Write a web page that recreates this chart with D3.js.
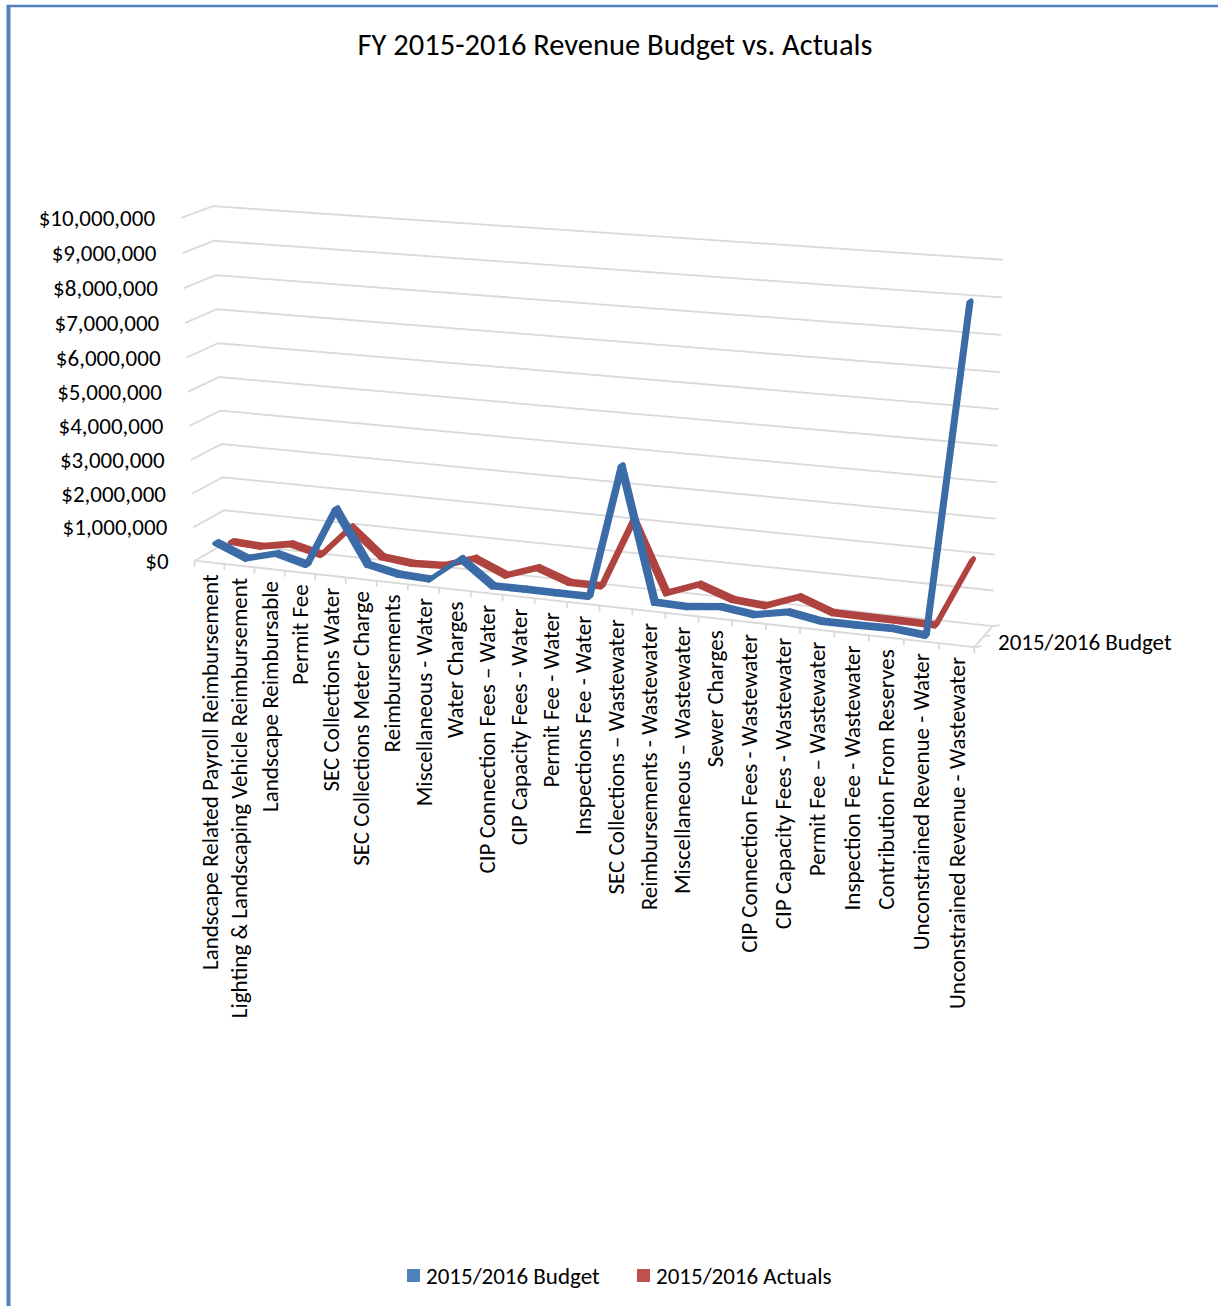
<!DOCTYPE html>
<html>
<head>
<meta charset="utf-8">
<script src="https://cdnjs.cloudflare.com/ajax/libs/d3/7.8.5/d3.min.js"></script>
<style>
  body { margin: 0; background: #fff; }
  svg { display: block; font-family: Carlito, Calibri, Lato, sans-serif; }
</style>
</head>
<body>
<script>

var categories = [
    "Landscape Related Payroll Reimbursement",
    "Lighting & Landscaping Vehicle Reimbursement",
    "Landscape Reimbursable",
    "Permit Fee",
    "SEC Collections Water",
    "SEC Collections Meter Charge",
    "Reimbursements",
    "Miscellaneous - Water",
    "Water Charges",
    "CIP Connection Fees \u2013 Water",
    "CIP Capacity Fees - Water",
    "Permit Fee - Water",
    "Inspections Fee - Water",
    "SEC Collections \u2013 Wastewater",
    "Reimbursements - Wastewater",
    "Miscellaneous \u2013 Wastewater",
    "Sewer Charges",
    "CIP Connection Fees -  Wastewater",
    "CIP Capacity Fees -  Wastewater",
    "Permit Fee \u2013 Wastewater",
    "Inspection Fee - Wastewater",
    "Contribution From Reserves",
    "Unconstrained Revenue - Water",
    "Unconstrained Revenue - Wastewater"
];

var seriesNames = ["2015/2016 Budget", "2015/2016 Actuals"];
var seriesColors = ["#4f81bd", "#c0504d"];
var seriesEdges = ["#3c6ca8", "#ae4340"];

var budget = [460000, 90000, 330000, 100000, 1840000, 300000, 110000, 70000, 770000, 70000,
              80000, 70000, 70000, 3890000, 110000, 90000, 190000, 70000, 250000, 90000,
              90000, 110000, 20000, 9140000];

var actuals = [230000, 180000, 350000, 130000, 1050000, 260000, 160000, 200000, 510000, 110000,
               430000, 100000, 100000, 2120000, 100000, 450000, 120000, 40000, 400000, 50000,
               40000, 30000, 20000, 1940000];

var yTicks = d3.range(0, 10000001, 1000000);

var width = 1218, height = 1306;

// where the corners of the 3d box (x, value, depth all 0..1) land on the page
var boxCorners = [
    [[0, 0, 0], [195, 558]],
    [[1, 0, 0], [974, 650]],
    [[0, 0, 1], [225, 546]],
    [[1, 0, 1], [993, 623]],
    [[0, 1, 0], [181, 218]],
    [[0, 1, 1], [213, 206]],
    [[1, 1, 1], [1003, 260]]
];

// perspective camera fitted to the box corners (least squares)
function fitCamera(pairs) {
    var A = [], b = [];
    pairs.forEach(function(p) {
        var X = p[0][0], Y = p[0][1], Z = p[0][2];
        var u = (p[1][0] - 600) / 400, v = (p[1][1] - 450) / 400;
        A.push([X, Y, Z, 1, 0, 0, 0, 0, -u * X, -u * Y, -u * Z]); b.push(u);
        A.push([0, 0, 0, 0, X, Y, Z, 1, -v * X, -v * Y, -v * Z]); b.push(v);
    });
    var n = 11, M = [], r = [];
    for (var i = 0; i < n; i++) {
        M[i] = [];
        for (var j = 0; j < n; j++) {
            var s = 0;
            for (var k = 0; k < A.length; k++) s += A[k][i] * A[k][j];
            M[i][j] = s;
        }
        var t = 0;
        for (var k2 = 0; k2 < A.length; k2++) t += A[k2][i] * b[k2];
        r[i] = t;
    }
    for (var c = 0; c < n; c++) {
        var piv = c;
        for (var rr = c + 1; rr < n; rr++) if (Math.abs(M[rr][c]) > Math.abs(M[piv][c])) piv = rr;
        var tmp = M[c]; M[c] = M[piv]; M[piv] = tmp;
        var tr = r[c]; r[c] = r[piv]; r[piv] = tr;
        for (var r2 = 0; r2 < n; r2++) {
            if (r2 === c) continue;
            var f = M[r2][c] / M[c][c];
            for (var j2 = c; j2 < n; j2++) M[r2][j2] -= f * M[c][j2];
            r[r2] -= f * r[c];
        }
    }
    var p = r.map(function(d, i) { return d / M[i][i]; });
    return function(X, Y, Z) {
        var w = p[8] * X + p[9] * Y + p[10] * Z + 1;
        return [
            (p[0] * X + p[1] * Y + p[2] * Z + p[3]) / w * 400 + 600,
            (p[4] * X + p[5] * Y + p[6] * Z + p[7]) / w * 400 + 450
        ];
    };
}

var proj = fitCamera(boxCorners);

var x = d3.scaleBand().domain(categories).range([0, 1]);
var y = d3.scaleLinear().domain([0, 10000000]).range([0, 1]);
var z = d3.scalePoint().domain(seriesNames).range([0, 1]).padding(0.5);

function xc(c) { return x(c) + x.bandwidth() / 2; }

var svg = d3.select("body").append("svg")
    .attr("width", width)
    .attr("height", height);

svg.append("rect")
    .attr("width", width)
    .attr("height", height)
    .attr("fill", "#fff");

// chart border (only top and left edges are inside the picture)
svg.append("line")
    .attr("x1", 8.5).attr("y1", 5).attr("x2", 8.5).attr("y2", height)
    .attr("stroke", "#4f81bd").attr("stroke-width", 4);
svg.append("line")
    .attr("x1", 7).attr("y1", 6).attr("x2", width).attr("y2", 6)
    .attr("stroke", "#4f81bd").attr("stroke-width", 2.5);

svg.append("text")
    .attr("x", 615)
    .attr("y", 55)
    .attr("text-anchor", "middle")
    .attr("font-size", 30.5)
    .attr("fill", "#000")
    .text("FY 2015-2016 Revenue Budget vs. Actuals");

var line = d3.line();
var grid = svg.append("g")
    .attr("fill", "none")
    .attr("stroke", "#d9d9d9")
    .attr("stroke-width", 1.8);

// side wall + back wall gridlines
grid.selectAll("path.grid")
    .data(yTicks)
    .enter().append("path")
    .attr("class", "grid")
    .attr("d", function(d) {
        return line([proj(0, y(d), 0), proj(0, y(d), 1), proj(1, y(d), 1)]);
    });

// floor front and right edges
grid.append("path")
    .attr("d", line([proj(0, 0, 0), proj(1, 0, 0), proj(1, 0, 1)]));

// category tick marks at band edges
grid.selectAll("path.xtick")
    .data(d3.range(categories.length + 1))
    .enter().append("path")
    .attr("class", "xtick")
    .attr("d", function(i) {
        var p = proj(i / categories.length, 0, 0);
        return line([p, [p[0], p[1] + 6]]);
    });

// depth axis ticks
grid.selectAll("path.ztick")
    .data([0, 0.5, 1])
    .enter().append("path")
    .attr("class", "ztick")
    .attr("d", function(d) {
        var p = proj(1, 0, d);
        return line([p, [p[0] + 7, p[1] - 1]]);
    });

// value labels
svg.selectAll("text.ylab")
    .data(yTicks)
    .enter().append("text")
    .attr("class", "ylab")
    .attr("x", function(d) { return proj(0, y(d), 0)[0] - 26; })
    .attr("y", function(d) { return proj(0, y(d), 0)[1]; })
    .attr("dy", "0.35em")
    .attr("text-anchor", "end")
    .attr("font-size", 23)
    .attr("fill", "#000")
    .text(d3.format("$,"));

// category labels
svg.selectAll("text.xlab")
    .data(categories)
    .enter().append("text")
    .attr("class", "xlab")
    .attr("transform", function(d) {
        var p = proj(xc(d), 0, 0);
        return "translate(" + p[0] + "," + (p[1] + 12) + ") rotate(-90)";
    })
    .attr("dy", "0.35em")
    .attr("text-anchor", "end")
    .attr("font-size", 23)
    .attr("fill", "#000")
    .text(function(d) { return d; });

// depth axis label (Excel only shows the first series name here)
var zl = proj(1, 0, z(seriesNames[0]));
svg.append("text")
    .attr("x", zl[0] + 19)
    .attr("y", zl[1])
    .attr("dy", "0.35em")
    .attr("font-size", 23)
    .attr("fill", "#000")
    .text(seriesNames[0]);

// ribbons, back series first
var series = [
    { name: seriesNames[0], values: budget, color: seriesColors[0], edge: seriesEdges[0] },
    { name: seriesNames[1], values: actuals, color: seriesColors[1], edge: seriesEdges[1] }
];
var half = 0.06;

series.slice().reverse().forEach(function(s) {
    var zz = z(s.name);
    var segs = d3.pairs(s.values.map(function(v, i) { return [xc(categories[i]), y(v)]; }));
    svg.append("g")
        .selectAll("path")
        .data(segs)
        .enter().append("path")
        .attr("d", function(d) {
            return line([
                proj(d[0][0], d[0][1], zz - half),
                proj(d[1][0], d[1][1], zz - half),
                proj(d[1][0], d[1][1], zz + half),
                proj(d[0][0], d[0][1], zz + half)
            ]) + "Z";
        })
        .attr("fill", s.color)
        .attr("stroke", s.edge)
        .attr("stroke-width", 5)
        .attr("stroke-linejoin", "round");
});

// legend
var legend = svg.selectAll("g.legend")
    .data(series)
    .enter().append("g")
    .attr("class", "legend")
    .attr("transform", function(d, i) { return "translate(" + (407 + i * 230) + ",1269)"; });

legend.append("rect")
    .attr("width", 13)
    .attr("height", 13)
    .attr("fill", function(d) { return d.color; });

legend.append("text")
    .attr("x", 19)
    .attr("y", 7)
    .attr("dy", "0.35em")
    .attr("font-size", 23)
    .attr("fill", "#000")
    .text(function(d) { return d.name; });

</script>
</body>
</html>
